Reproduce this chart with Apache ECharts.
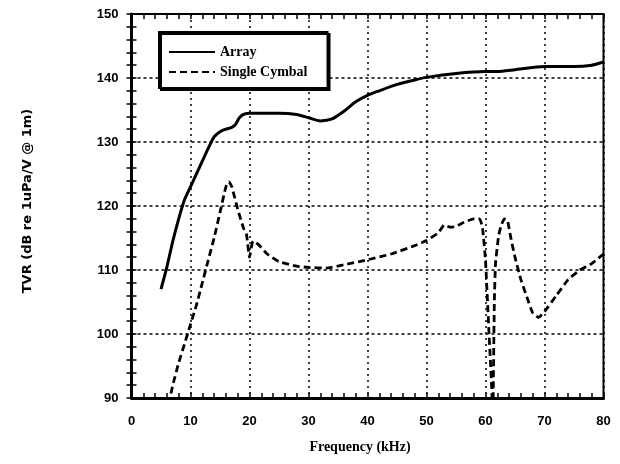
<!DOCTYPE html>
<html>
<head>
<meta charset="utf-8">
<script src="https://cdn.jsdelivr.net/npm/echarts@6/dist/echarts.min.js"></script>
<style>
  html, body { margin: 0; padding: 0; background: #fff; }
  #chart { width: 620px; height: 464px; }
</style>
</head>
<body>
<div id="chart"></div>
<script>
// Transmitting voltage response vs frequency
const arrayFreq = [5, 6, 7, 8, 9, 10, 11, 12, 13, 14, 15, 16, 17, 17.6, 18.3, 19, 20, 22, 25, 28, 30, 32, 34, 36, 38, 40, 42, 45, 48, 50, 55, 60, 62, 65, 70, 75, 78, 80];
const arrayTvr  = [107, 110.5, 114.5, 118, 121, 123, 125, 127, 129, 130.8, 131.6, 132, 132.3, 132.7, 133.8, 134.3, 134.5, 134.5, 134.5, 134.3, 133.8, 133.3, 133.6, 134.8, 136.3, 137.3, 138, 139, 139.7, 140.1, 140.7, 141, 141, 141.3, 141.8, 141.8, 142, 142.5];

const cymbalFreq = [6.3, 7, 8, 9, 10, 11, 12, 13, 14, 15, 16, 16.5, 17, 18, 19, 19.5, 20, 20.6, 21.5, 23, 25, 28, 30, 33, 36, 40, 44, 48, 50, 52, 53, 54, 55, 56, 58, 59, 59.5, 60, 60.6, 61.1, 61.2, 61.3, 61.5, 61.7, 62.2, 62.6, 63.2, 63.7, 64.3, 65, 66, 67, 68, 69, 70, 72, 74, 76, 78, 80];
const cymbalTvr  = [89, 92, 95.5, 98.5, 101.5, 104.5, 108, 111.5, 115, 119, 123, 123.8, 123, 119.5, 116.5, 115.5, 112, 114.5, 114, 112.5, 111.3, 110.6, 110.4, 110.3, 110.8, 111.6, 112.5, 113.8, 114.6, 115.8, 117, 116.7, 116.8, 117.3, 118, 118, 116.5, 111.5, 100, 90.5, 80, 90, 105, 111, 115.2, 116.8, 118, 117.8, 115, 112, 108.5, 105.8, 103.3, 102.6, 103.5, 106, 108.5, 110, 111, 112.5];

// labelled ticks every 10, small inward ticks every 2
const xRange = { min: 0, max: 80 };
const yRange = { min: 90, max: 150 };
const majorStep = 10;
const minorStep = 2;

const pair = (xs, ys) => xs.map((x, i) => [x, ys[i]]);

const tickFont = { fontFamily: 'Liberation Sans', fontWeight: 'bold', fontSize: 13, color: '#000' };
const frame = { left: 131.5, right: 16.5, top: 14, bottom: 66 };

// axis that only carries the small inward tick marks on one side of the frame
function tickAxis(range, position, gridIndex) {
  return {
    type: 'value', ...range, interval: minorStep, position, gridIndex, offset: 0,
    axisLine: { show: false },
    axisTick: { show: true, inside: true, length: 5, lineStyle: { color: '#000', width: 1.5 } },
    axisLabel: { show: false }, splitLine: { show: false }
  };
}

const chart = echarts.init(document.getElementById('chart'), null, { renderer: 'canvas' });
chart.setOption({
  animation: false,
  backgroundColor: '#fff',
  grid: [
    { ...frame, show: true, borderColor: '#000', borderWidth: 2, backgroundColor: 'transparent' },
    { ...frame, show: false }
  ],
  legend: {
    orient: 'vertical',
    left: 159, top: 32,
    padding: [13, 20, 9, 9],
    itemGap: 6,
    itemWidth: 46,
    itemHeight: 14,
    backgroundColor: '#fff',
    borderColor: '#000',
    borderWidth: 2,
    borderRadius: 0,
    shadowColor: '#000',
    shadowBlur: 0,
    shadowOffsetX: 2,
    shadowOffsetY: 2,
    itemStyle: { opacity: 0, borderWidth: 0 },
    textStyle: { fontFamily: 'Liberation Serif', fontWeight: 'bold', fontSize: 14, color: '#000' },
    data: ['Array', 'Single Cymbal']
  },
  xAxis: [{
    type: 'value', ...xRange, interval: majorStep, gridIndex: 0, position: 'bottom',
    name: 'Frequency (kHz)', nameLocation: 'middle', nameGap: 42,
    nameTextStyle: { fontFamily: 'Liberation Serif', fontWeight: 'bold', fontSize: 14, color: '#000', padding: [0, 15, 0, 0] },
    axisLine: { show: true, lineStyle: { color: '#000', width: 3 } },
    axisTick: { show: false },
    axisLabel: { ...tickFont, margin: 17 },
    splitLine: { show: true, lineStyle: { color: '#000', width: 1.5, type: [2, 4] } }
  }, tickAxis(xRange, 'top', 0), tickAxis(xRange, 'bottom', 1)],
  yAxis: [{
    type: 'value', ...yRange, interval: majorStep, gridIndex: 0, position: 'left',
    name: 'TVR (dB re 1uPa/V @ 1m)', nameLocation: 'middle', nameGap: 97, nameRotate: 90,
    nameTextStyle: { fontFamily: 'DejaVu Sans', fontWeight: 'bold', fontSize: 13, color: '#000', padding: [0, 0, 0, 10] },
    axisLine: { show: true, lineStyle: { color: '#000', width: 3 } },
    axisTick: { show: false },
    axisLabel: { ...tickFont, margin: 13 },
    splitLine: { show: true, lineStyle: { color: '#000', width: 1.5, type: [3, 3] } }
  }, tickAxis(yRange, 'right', 0), tickAxis(yRange, 'left', 1)],
  series: [{
    name: 'Array', type: 'line', symbol: 'none', smooth: 0.2, clip: true,
    xAxisIndex: 0, yAxisIndex: 0,
    lineStyle: { color: '#000', width: 3 },
    itemStyle: { color: '#000' },
    data: pair(arrayFreq, arrayTvr)
  }, {
    name: 'Single Cymbal', type: 'line', symbol: 'none', smooth: 0.15, clip: true,
    xAxisIndex: 0, yAxisIndex: 0,
    lineStyle: { color: '#000', width: 2.8, type: [7, 4] },
    itemStyle: { color: '#000' },
    data: pair(cymbalFreq, cymbalTvr)
  }]
});
</script>
</body>
</html>
